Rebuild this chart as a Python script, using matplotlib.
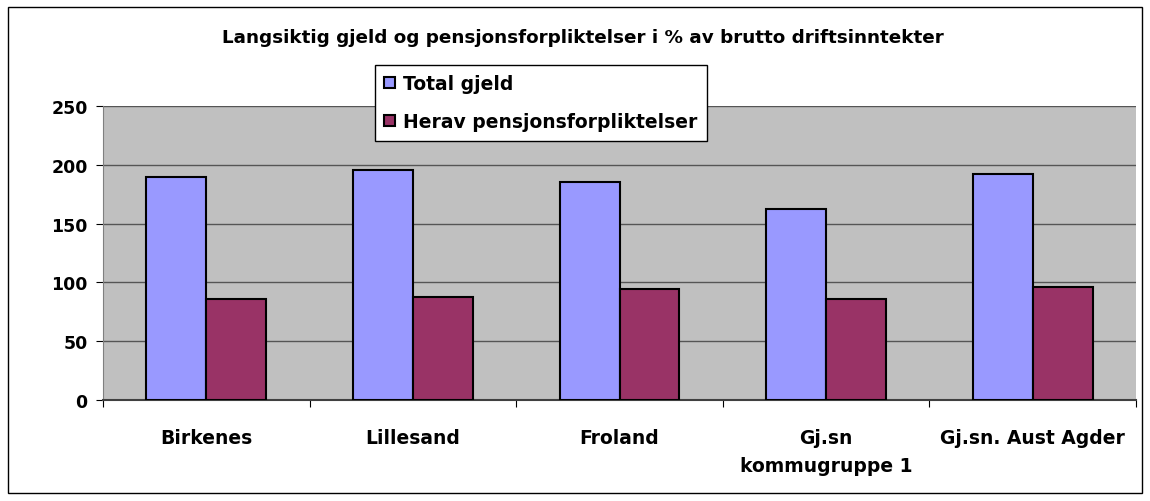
import numpy as np
import matplotlib.pyplot as plt
from matplotlib.patches import Rectangle

categories = ["Birkenes", "Lillesand", "Froland", "Gj.sn\nkommugruppe 1", "Gj.sn. Aust Agder"]
total_gjeld = [190, 196, 185, 162, 192]
pensjon = [86, 88, 94, 86, 96]
series_names = ["Total gjeld", "Herav pensjonsforpliktelser"]
yticks = [0, 50, 100, 150, 200, 250]

plt.rcParams['font.family'] = ['DejaVu Sans']
plt.rcParams['font.weight'] = 'bold'

fig = plt.figure(figsize=(11.5, 5.02), dpi=100)
ax = fig.add_axes([103 / 1150, 1 - 401 / 502, (1136 - 103) / 1150, (401 - 107) / 502])

# outer chart border
fig.patches.append(Rectangle((8 / 1150, 8 / 502), 1134 / 1150, 486 / 502, transform=fig.transFigure,
                             fill=False, edgecolor='black', linewidth=1))

x = np.arange(len(categories))
w = 0.29
ax.bar(x - w / 2, total_gjeld, w, color='#9999FF', edgecolor='black', linewidth=1.5, label=series_names[0], zorder=3)
ax.bar(x + w / 2, pensjon, w, color='#993366', edgecolor='black', linewidth=1.5, label=series_names[1], zorder=3)

ax.set_facecolor('#C0C0C0')
ax.set_xlim(-0.5, len(categories) - 0.5)
ax.set_ylim(0, 250)
ax.set_yticks(yticks)
ax.yaxis.grid(True, color='#555555', linewidth=1, zorder=1)
ax.set_axisbelow(True)

ax.set_xticks(np.arange(len(categories) + 1) - 0.5)
ax.set_xticklabels([])
ax.set_xticks(x, minor=True)
ax.set_xticklabels(categories, minor=True, fontsize=13.5, fontweight='bold', linespacing=1.6, va='top')
ax.tick_params(axis='x', which='minor', length=0, pad=20)
ax.tick_params(axis='x', which='major', length=5, color='black', direction='out')
ax.tick_params(axis='y', length=5, labelsize=12.5, pad=6)
for lbl in ax.get_yticklabels():
    lbl.set_fontweight('bold')

for side in ['top', 'right']:
    ax.spines[side].set_visible(False)
ax.spines['left'].set_color('#808080')
ax.spines['bottom'].set_color('#404040')
ax.spines['bottom'].set_linewidth(1.5)

fig.text(583 / 1150, 1 - 38 / 502, "Langsiktig gjeld og pensjonsforpliktelser i % av brutto driftsinntekter",
         ha='center', va='center', fontsize=13.2, fontweight='bold')

leg = ax.legend(loc='upper left', bbox_to_anchor=((375 - 103) / 1033, 1 + (107 - 66) / 294),
                fontsize=13.5, frameon=True, fancybox=False, framealpha=1, edgecolor='black',
                handlelength=0.55, handleheight=0.55, handletextpad=0.45, labelspacing=1.0,
                borderpad=0.5, borderaxespad=0)
leg.get_frame().set_linewidth(1)
leg.set_zorder(5)

plt.savefig("out.png", dpi=100)
